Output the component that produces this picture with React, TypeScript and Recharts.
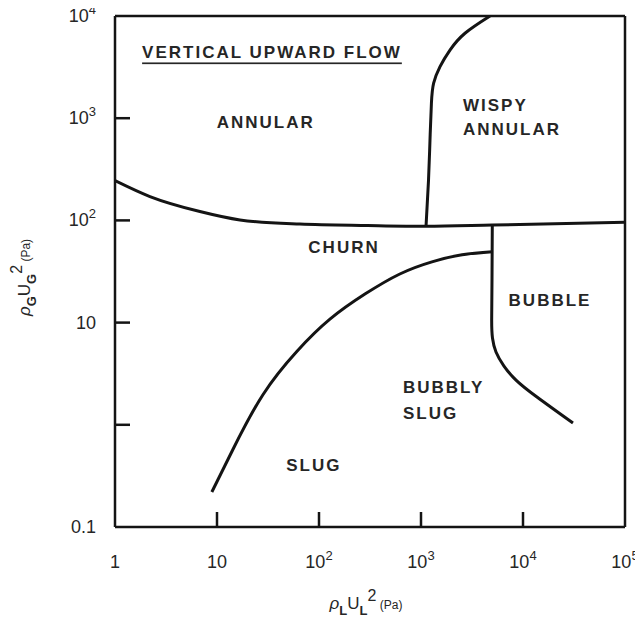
import React from 'react';
import { LineChart, Line, XAxis, YAxis, ReferenceLine, ReferenceDot } from 'recharts';

// Axis ticks (log decades) and their printed labels
const xTicks = [1, 10, 100, 1000, 10000, 100000];
const xTickBase = ['1', '10', '10', '10', '10', '10'];
const xTickExp = ['', '', '2', '3', '4', '5'];
const yTicks = [0.1, 1, 10, 100, 1000, 10000];
const yTickBase = ['0.1', '', '10', '10', '10', '10'];
const yTickExp = ['', '', '', '2', '3', '4'];

// Regime boundaries: x = rho_L U_L^2 (Pa), y = rho_G U_G^2 (Pa)
const annularChurn = [
  { x: 1, y: 245 },
  { x: 2.2, y: 171 },
  { x: 6.8, y: 122 },
  { x: 16.8, y: 101 },
  { x: 65, y: 92 },
  { x: 300, y: 89 },
  { x: 1120, y: 87.5 },
  { x: 5000, y: 90 },
  { x: 100000, y: 96 },
];

const wispyAnnular = [
  { x: 1120, y: 87.5 },
  { x: 1185, y: 248 },
  { x: 1225, y: 612 },
  { x: 1265, y: 1400 },
  { x: 1330, y: 2200 },
  { x: 1536, y: 3193 },
  { x: 1924, y: 4645 },
  { x: 2700, y: 6780 },
  { x: 4750, y: 10000 },
];

const bubbleBoundary = [
  { x: 5000, y: 90 },
  { x: 4966, y: 26.1 },
  { x: 4930, y: 10.6 },
  { x: 5020, y: 7.07 },
  { x: 5435, y: 5.16 },
  { x: 6510, y: 3.76 },
  { x: 8540, y: 2.74 },
  { x: 13700, y: 1.87 },
  { x: 30900, y: 1.04 },
];

const slugChurn = [
  { x: 8.9, y: 0.22 },
  { x: 14.4, y: 0.58 },
  { x: 28.2, y: 1.97 },
  { x: 60.9, y: 5.25 },
  { x: 128, y: 10.8 },
  { x: 282, y: 19.0 },
  { x: 620, y: 29.9 },
  { x: 1280, y: 39.3 },
  { x: 2530, y: 46.1 },
  { x: 5000, y: 49.4 },
];

// Regime names and where they sit (data coordinates)
const regionNames = ['ANNULAR', 'WISPY', 'ANNULAR', 'CHURN', 'BUBBLE', 'BUBBLY', 'SLUG', 'SLUG'];
const regionX = [30, 2580, 2580, 176, 18400, 666, 666, 89];
const regionY = [898, 1346, 767, 53.7, 16.6, 2.34, 1.3, 0.404];
const regionAlign = ['middle', 'start', 'start', 'middle', 'middle', 'start', 'start', 'middle'];

const heading = 'VERTICAL UPWARD FLOW';
const headingX = 34.6;
const headingY = 4350;

const INK = '#141414';
const TEXT = '#262626';
const FONT = '"Liberation Sans", Arial, sans-serif';
const LINE_W = 3;

const tickIndex = (list: number[], v: number) =>
  list.findIndex((t) => Math.abs(Math.log10(t) - Math.log10(v)) < 1e-6);

function XTick(props: any) {
  const { x, y, payload } = props;
  const i = tickIndex(xTicks, payload.value);
  if (i < 0) return null;
  const inner = i > 0 && i < xTicks.length - 1;
  return (
    <g>
      {inner && <line x1={x} y1={y} x2={x} y2={y - 15} stroke={INK} strokeWidth={2.5} />}
      <text x={x} y={y + 41} textAnchor="middle" fontSize={18} fill={TEXT} fontFamily={FONT}>
        <tspan>{xTickBase[i]}</tspan>
        {xTickExp[i] && (
          <tspan dy={-8} fontSize={13}>
            {xTickExp[i]}
          </tspan>
        )}
      </text>
    </g>
  );
}

function YTick(props: any) {
  const { x, y, payload } = props;
  const i = tickIndex(yTicks, payload.value);
  if (i < 0) return null;
  const inner = i > 0 && i < yTicks.length - 1;
  return (
    <g>
      {inner && <line x1={x} y1={y} x2={x + 15} y2={y} stroke={INK} strokeWidth={2.5} />}
      {yTickBase[i] && (
        <text x={x - 19} y={y + 6} textAnchor="end" fontSize={18} fill={TEXT} fontFamily={FONT}>
          <tspan>{yTickBase[i]}</tspan>
          {yTickExp[i] && (
            <tspan dy={-8} fontSize={13}>
              {yTickExp[i]}
            </tspan>
          )}
        </text>
      )}
    </g>
  );
}

function XTitle(props: any) {
  const vb = props.viewBox || { x: 0, y: 0, width: 0, height: 0 };
  const cx = vb.x + vb.width / 2 - 4;
  const cy = vb.y + 82;
  return (
    <text x={cx} y={cy} textAnchor="middle" fill={TEXT} fontFamily={FONT} fontSize={17}>
      <tspan fontStyle="italic">ρ</tspan>
      <tspan dy={6} fontSize={13} fontWeight="bold">L</tspan>
      <tspan dy={-6}>U</tspan>
      <tspan dy={6} fontSize={13} fontWeight="bold">L</tspan>
      <tspan dy={-14} fontSize={16}>2</tspan>
      <tspan dy={8} fontSize={12}> (Pa)</tspan>
    </text>
  );
}

function YTitle(props: any) {
  const vb = props.viewBox || { x: 0, y: 0, width: 0, height: 0 };
  const cx = vb.x + 22;
  const cy = vb.y + vb.height / 2 + 6;
  return (
    <text
      x={cx}
      y={cy}
      transform={`rotate(-90 ${cx} ${cy})`}
      textAnchor="middle"
      fill={TEXT}
      fontFamily={FONT}
      fontSize={17}
    >
      <tspan fontStyle="italic">ρ</tspan>
      <tspan dy={6} fontSize={13} fontWeight="bold">G</tspan>
      <tspan dy={-6}>U</tspan>
      <tspan dy={6} fontSize={13} fontWeight="bold">G</tspan>
      <tspan dy={-14} fontSize={16}>2</tspan>
      <tspan dy={8} fontSize={12}> (Pa)</tspan>
    </text>
  );
}

const regionText = (label: string, anchor: string, underline = false) => (props: any) => (
  <text
    x={props.cx}
    y={props.cy}
    dominantBaseline="central"
    textAnchor={anchor}
    fontFamily={FONT}
    fontWeight="bold"
    fontSize={17}
    letterSpacing={2}
    fill={TEXT}
    textDecoration={underline ? 'underline' : undefined}
  >
    {label}
  </text>
);

export default function App() {
  return (
    <div style={{ marginTop: -8 }}>
      <LineChart width={635} height={631} margin={{ top: 16, right: 18, bottom: 0, left: 0 }}>
        <XAxis
          type="number"
          dataKey="x"
          scale="log"
          domain={[1, 100000]}
          allowDataOverflow
          ticks={xTicks}
          interval={0}
          height={104}
          tickSize={0}
          tickMargin={0}
          tickLine={false}
          axisLine={{ stroke: INK, strokeWidth: 2.5 }}
          tick={<XTick />}
          label={{ content: <XTitle /> }}
        />
        <YAxis
          type="number"
          dataKey="y"
          scale="log"
          domain={[0.1, 10000]}
          allowDataOverflow
          ticks={yTicks}
          interval={0}
          width={107}
          tickSize={0}
          tickMargin={0}
          tickLine={false}
          axisLine={{ stroke: INK, strokeWidth: 2.5 }}
          tick={<YTick />}
          label={{ content: <YTitle /> }}
        />
        <ReferenceLine y={10000} stroke={INK} strokeWidth={2.5} />
        <ReferenceLine x={100000} stroke={INK} strokeWidth={2.5} />

        <Line data={annularChurn} dataKey="y" type="monotoneX" stroke={INK} strokeWidth={LINE_W} dot={false} isAnimationActive={false} />
        <Line data={wispyAnnular} dataKey="y" type="natural" stroke={INK} strokeWidth={LINE_W} dot={false} isAnimationActive={false} />
        <Line data={bubbleBoundary} dataKey="y" type="natural" stroke={INK} strokeWidth={LINE_W} dot={false} isAnimationActive={false} />
        <Line data={slugChurn} dataKey="y" type="natural" stroke={INK} strokeWidth={LINE_W} dot={false} isAnimationActive={false} />

        <ReferenceDot x={headingX} y={headingY} r={0} shape={regionText(heading, 'middle', true)} />
        {regionNames.map((name, i) => (
          <ReferenceDot
            key={`${name}-${i}`}
            x={regionX[i]}
            y={regionY[i]}
            r={0}
            shape={regionText(name, regionAlign[i])}
          />
        ))}
      </LineChart>
    </div>
  );
}
